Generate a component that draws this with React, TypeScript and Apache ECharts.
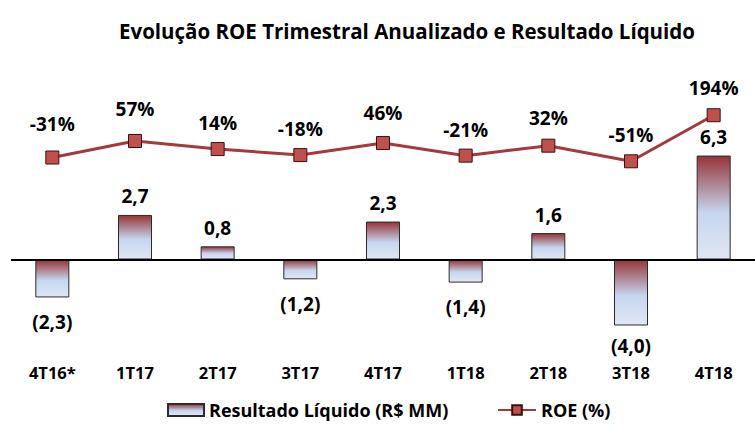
import React, { useEffect, useRef } from "react";
import * as echarts from "echarts";

const categories = ["4T16*", "1T17", "2T17", "3T17", "4T17", "1T18", "2T18", "3T18", "4T18"];
const resultado = [-2.3, 2.7, 0.8, -1.2, 2.3, -1.4, 1.6, -4.0, 6.3];
const roe = [-31, 57, 14, -18, 46, -21, 32, -51, 194];
const roeLabelDistance = [17, 15, 10, 10, 14, 9, 11, 10, 11];
const resLabelDistance = [15, 9, 9, 15, 9, 15, 9, 11, 9];

const FONT = "'Open Sans', sans-serif";

const fmtRes = (v: number) => {
  const s = Math.abs(v).toFixed(1).replace(".", ",");
  return v < 0 ? `(${s})` : s;
};

export default function App() {
  const ref = useRef<HTMLDivElement>(null);
  useEffect(() => {
    if (!ref.current) return;
    const chart = echarts.init(ref.current, undefined, { renderer: "svg" });
    const barGrad = new echarts.graphic.LinearGradient(0, 0, 0, 1, [
      { offset: 0, color: "#953537" },
      { offset: 0.55, color: "#C6D6EF" },
      { offset: 1, color: "#E0E7F3" },
    ]);
    const legendText = { fontFamily: FONT, fontSize: 18, lineHeight: 18, fontWeight: "bold", color: "#000" };
    chart.setOption({
      animation: false,
      backgroundColor: "#ffffff",
      title: {
        text: "Evolução ROE Trimestral Anualizado e Resultado Líquido",
        left: 402,
        textAlign: "center",
        top: 15,
        textStyle: { fontFamily: FONT, fontSize: 20.5, fontWeight: "bold", color: "#000" },
      },
      legend: [
        {
          data: [{ name: "Resultado Líquido (R$ MM)", icon: "rect" }],
          left: 167,
          top: 401,
          padding: 0,
          itemWidth: 36,
          itemHeight: 12,
          textStyle: legendText,
        },
        {
          data: ["ROE (%)"],
          left: 497,
          top: 401,
          padding: 0,
          itemWidth: 38,
          itemHeight: 12,
          textStyle: legendText,
        },
      ],
      grid: { left: 11, top: 111, width: 754, height: 247.5, containLabel: false },
      xAxis: {
        type: "category",
        data: categories,
        axisLine: { show: false, onZero: false },
        axisTick: { show: false },
        axisLabel: { fontFamily: FONT, fontSize: 16.5, fontWeight: "bold", color: "#000", margin: 5 },
      },
      yAxis: [
        { type: "value", min: -6, max: 9, show: false, splitLine: { show: false } },
        { type: "value", min: -1100, max: 216.5, show: false, splitLine: { show: false } },
      ],
      series: [
        {
          name: "Resultado Líquido (R$ MM)",
          type: "bar",
          yAxisIndex: 0,
          barWidth: 34,
          data: resultado.map((v, i) => ({
            value: v,
            label: {
              position: v < 0 ? "bottom" : "top",
              distance: resLabelDistance[i],
            },
          })),
          itemStyle: { color: barGrad, borderColor: "#2b2b2b", borderWidth: 1 },
          label: {
            show: true,
            fontFamily: FONT,
            fontSize: 19,
            fontWeight: "bold",
            color: "#000",
            formatter: (p: any) => fmtRes(p.value),
          },
          markLine: {
            silent: true,
            symbol: "none",
            label: { show: false },
            lineStyle: { color: "#000", width: 2, type: "solid" },
            data: [{ yAxis: 0 }],
          },
        },
        {
          name: "ROE (%)",
          type: "line",
          yAxisIndex: 1,
          data: roe.map((v, i) => ({ value: v, label: { distance: roeLabelDistance[i] } })),
          symbol: "rect",
          symbolSize: 13,
          lineStyle: { color: "#A33A3C", width: 3 },
          itemStyle: { color: "#C0504D", borderColor: "#3a1010", borderWidth: 1 },
          label: {
            show: true,
            position: "top",
            fontFamily: FONT,
            fontSize: 19,
            fontWeight: "bold",
            color: "#000",
            formatter: (p: any) => `${p.value}%`,
          },
          z: 5,
        },
      ],
    });
    return () => chart.dispose();
  }, []);
  return <div ref={ref} style={{ position: "fixed", left: 0, top: 0, width: 755, height: 424 }} />;
}
